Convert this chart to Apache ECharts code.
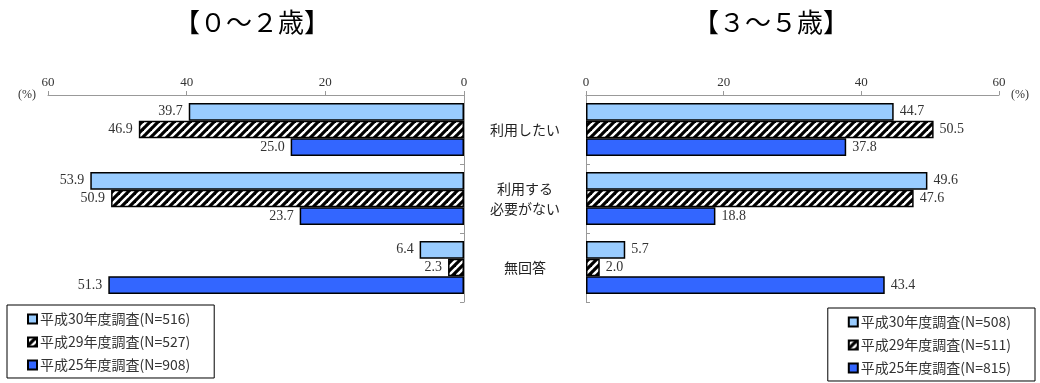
<!DOCTYPE html>
<html>
<head>
<meta charset="utf-8">
<script src="https://cdn.jsdelivr.net/npm/echarts@6/dist/echarts.min.js"></script>
<style>
  html, body { margin: 0; padding: 0; background: #fff; }
  #chart { width: 1040px; height: 383px; }
</style>
</head>
<body>
<div id="chart"></div>
<script>
const categories = ["利用したい", "利用する\n必要がない", "無回答"];
const ticks = [0, 20, 40, 60];

// 0~2 years
const youngNames = ["平成30年度調査(N=516)", "平成29年度調査(N=527)", "平成25年度調査(N=908)"];
const youngH30 = [39.7, 53.9, 6.4];
const youngH29 = [46.9, 50.9, 2.3];
const youngH25 = [25.0, 23.7, 51.3];

// 3~5 years
const olderNames = ["平成30年度調査(N=508)", "平成29年度調査(N=511)", "平成25年度調査(N=815)"];
const olderH30 = [44.7, 49.6, 5.7];
const olderH29 = [50.5, 47.6, 2.0];
const olderH25 = [37.8, 18.8, 43.4];

const serif = "'Liberation Serif', 'DejaVu Serif', 'Noto Sans CJK JP', serif";
const cjk = "'Noto Sans CJK JP', sans-serif";

// hatch pattern for the H29 bars
function makeHatch() {
  const c = document.createElement("canvas");
  c.width = 8;
  c.height = 8;
  const ctx = c.getContext("2d");
  ctx.fillStyle = "#fff";
  ctx.fillRect(0, 0, 8, 8);
  ctx.strokeStyle = "#000";
  ctx.lineWidth = 3.2;
  [0, 8, 16].forEach((k) => {
    ctx.beginPath();
    ctx.moveTo(k - 10, 10);
    ctx.lineTo(k + 2, -2);
    ctx.stroke();
  });
  return c;
}
const hatch = { image: makeHatch(), repeat: "repeat" };
const colors = ["#99CCFF", hatch, "#3366FF"];

function makeSeries(names, values, idx, side) {
  return values.map((vals, i) => ({
    name: names[i],
    type: "bar",
    xAxisIndex: idx,
    yAxisIndex: idx,
    data: vals,
    barGap: "0%",
    barCategoryGap: "23%",
    itemStyle: { color: colors[i], borderColor: "#000", borderWidth: 1.5 },
    label: {
      show: true,
      position: side,
      distance: 6,
      fontFamily: serif,
      fontSize: 14,
      color: "#333",
      formatter: (p) => p.value.toFixed(1),
    },
  }));
}

function makeLegend(names, pos) {
  return Object.assign({
    data: names,
    orient: "vertical",
    icon: "rect",
    padding: [7, 24, 6, 20],
    itemGap: 9,
    itemWidth: 9,
    itemHeight: 9,
    borderColor: "#000",
    borderWidth: 1,
    textStyle: { fontFamily: cjk, fontSize: 14, color: "#333", padding: [0, 0, 0, -2] },
  }, pos);
}

const chart = echarts.init(document.getElementById("chart"));
chart.setOption({
  animation: false,
  title: [
    { text: "【０～２歳】", left: 247, top: 4, textAlign: "center",
      textStyle: { fontFamily: cjk, fontSize: 26, fontWeight: "normal", color: "#000" } },
    { text: "【３～５歳】", left: 766, top: 4, textAlign: "center",
      textStyle: { fontFamily: cjk, fontSize: 26, fontWeight: "normal", color: "#000" } },
  ],
  legend: [
    makeLegend(youngNames, { left: 7, top: 305 }),
    makeLegend(olderNames, { right: 5, top: 308 }),
  ],
  grid: [
    { left: 48, right: 576, top: 95, height: 207 },
    { left: 586, right: 41, top: 95, height: 207 },
  ],
  xAxis: [0, 1].map((i) => ({
    gridIndex: i,
    type: "value",
    position: "top",
    inverse: i === 0,
    min: ticks[0],
    max: ticks[ticks.length - 1],
    interval: 20,
    name: "(%)",
    nameLocation: "end",
    nameGap: 12,
    nameTextStyle: { fontFamily: serif, fontSize: 12, color: "#333" },
    axisLine: { show: true, lineStyle: { color: "#999" } },
    axisTick: { show: true, length: 4, lineStyle: { color: "#999" } },
    axisLabel: { fontFamily: serif, fontSize: 13, color: "#333", margin: 6 },
    splitLine: { show: false },
  })),
  yAxis: [0, 1].map((i) => ({
    gridIndex: i,
    type: "category",
    data: categories,
    inverse: true,
    position: i === 0 ? "right" : "left",
    axisLine: { show: true, lineStyle: { color: "#999" } },
    axisTick: { show: true, inside: true, length: 4, lineStyle: { color: "#999" } },
    axisLabel: {
      show: i === 1,
      align: "center",
      margin: 61,
      fontFamily: cjk,
      fontSize: 14,
      lineHeight: 20,
      color: "#222",
    },
  })),
  series: [
    ...makeSeries(youngNames, [youngH30, youngH29, youngH25], 0, "left"),
    ...makeSeries(olderNames, [olderH30, olderH29, olderH25], 1, "right"),
  ],
});
</script>
</body>
</html>
